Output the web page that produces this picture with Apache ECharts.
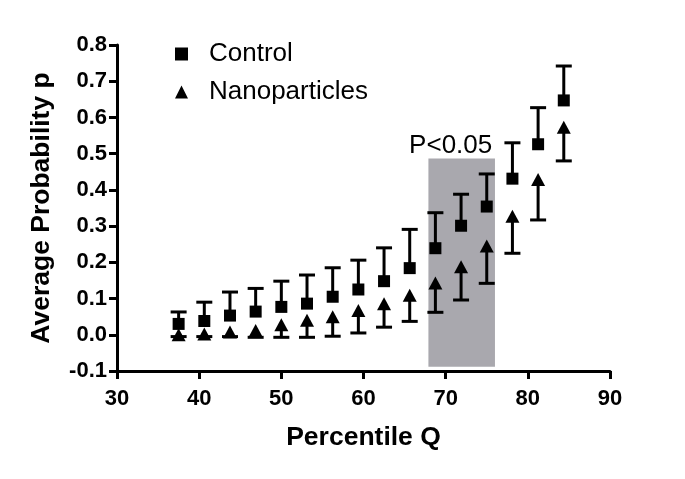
<!DOCTYPE html>
<html>
<head>
<meta charset="utf-8">
<script src="https://cdn.jsdelivr.net/npm/echarts@6/dist/echarts.min.js"></script>
<style>
html,body{margin:0;padding:0;background:#fff;}
#chart{width:685px;height:479px;}
</style>
</head>
<body>
<div id="chart"></div>
<script>
// ---- data ----
const percentiles = [37.5, 40.625, 43.75, 46.875, 50, 53.125, 56.25, 59.375, 62.5, 65.625, 68.75, 71.875, 75, 78.125, 81.25, 84.375];
const controlMean  = [0.030, 0.038, 0.053, 0.064, 0.077, 0.086, 0.105, 0.125, 0.148, 0.184, 0.239, 0.301, 0.354, 0.431, 0.526, 0.647];
const controlUpper = [0.063, 0.090, 0.118, 0.128, 0.148, 0.165, 0.185, 0.206, 0.240, 0.291, 0.337, 0.388, 0.444, 0.530, 0.627, 0.742];
const nanoMean     = [0.000, 0.002, 0.008, 0.012, 0.028, 0.040, 0.050, 0.067, 0.086, 0.109, 0.143, 0.188, 0.245, 0.327, 0.429, 0.573];
const nanoLower    = [-0.005, -0.005, -0.005, -0.007, -0.007, -0.007, -0.004, 0.005, 0.021, 0.037, 0.062, 0.096, 0.142, 0.225, 0.317, 0.480];
const shadeX = [67.9, 76.0];
const shadeY = [-0.088, 0.487];
const shadeLabel = 'P<0.05';
const seriesNames = ['Control', 'Nanoparticles'];
const xTitle = 'Percentile Q';
const yTitle = 'Average Probability p';

const FONT = '"Liberation Sans", Arial, Helvetica, sans-serif';

const ctrlPts = percentiles.map((x, i) => [x, controlMean[i]]);
const nanoPts = percentiles.map((x, i) => [x, nanoMean[i]]);
const ctrlErr = percentiles.map((x, i) => [x, controlMean[i], controlUpper[i]]);
const nanoErr = percentiles.map((x, i) => [x, nanoMean[i], nanoLower[i]]);

function errRender(params, api) {
  const x = api.value(0), m = api.value(1), e = api.value(2);
  const p0 = api.coord([x, m]);
  const p1 = api.coord([x, e]);
  const half = 8;
  const st = {stroke: '#000', lineWidth: 3};
  return {
    type: 'group',
    children: [
      {type: 'line', shape: {x1: p0[0], y1: p0[1], x2: p1[0], y2: p1[1]}, style: st},
      {type: 'line', shape: {x1: p1[0] - half, y1: p1[1], x2: p1[0] + half, y2: p1[1]}, style: st}
    ]
  };
}

const chart = echarts.init(document.getElementById('chart'), null, {renderer: 'canvas'});
chart.setOption({
  backgroundColor: '#fff',
  animation: false,
  grid: {left: 117, right: 75, top: 45, bottom: 108, containLabel: false},
  legend: {
    orient: 'vertical',
    left: 170,
    top: 36,
    itemWidth: 13,
    itemHeight: 13,
    itemGap: 12,
    data: [{name: seriesNames[0], icon: 'rect'}, {name: seriesNames[1], icon: 'triangle'}],
    textStyle: {fontFamily: FONT, fontSize: 26, color: '#000', lineHeight: 26, padding: [0, 0, 0, 16]}
  },
  xAxis: {
    type: 'value', min: 30, max: 90, interval: 10,
    name: xTitle, nameLocation: 'middle', nameGap: 53,
    nameTextStyle: {fontFamily: FONT, fontSize: 26.5, fontWeight: 'bold', color: '#000'},
    axisLine: {show: true, onZero: false, lineStyle: {color: '#000', width: 3}},
    axisTick: {show: true, length: 8, lineStyle: {color: '#000', width: 3}},
    axisLabel: {fontFamily: FONT, fontSize: 22, fontWeight: 'bold', color: '#000', margin: 17},
    splitLine: {show: false}
  },
  yAxis: {
    type: 'value', min: -0.1, max: 0.8, interval: 0.1,
    name: yTitle, nameLocation: 'middle', nameGap: 62,
    nameTextStyle: {fontFamily: FONT, fontSize: 26.5, fontWeight: 'bold', color: '#000'},
    axisLine: {show: true, onZero: false, lineStyle: {color: '#000', width: 3}},
    axisTick: {show: true, length: 8, lineStyle: {color: '#000', width: 3}},
    axisLabel: {fontFamily: FONT, fontSize: 22, fontWeight: 'bold', color: '#000', margin: 10,
      formatter: v => (Math.round(v * 10) / 10).toFixed(1)},
    splitLine: {show: false}
  },
  series: [
    {
      type: 'scatter', data: [], z: 1, silent: true,
      markArea: {
        silent: true,
        itemStyle: {color: '#a9a8ae', opacity: 1},
        label: {show: true, position: 'top', distance: 0, offset: [-11, 0],
          formatter: shadeLabel, fontFamily: FONT, fontSize: 26, color: '#000', lineHeight: 26},
        data: [[{coord: [shadeX[0], shadeY[0]]}, {coord: [shadeX[1], shadeY[1]]}]]
      }
    },
    {type: 'custom', renderItem: errRender, data: ctrlErr, encode: {x: 0, y: [1, 2]}, z: 3, silent: true},
    {type: 'custom', renderItem: errRender, data: nanoErr, encode: {x: 0, y: [1, 2]}, z: 3, silent: true},
    {name: seriesNames[0], type: 'scatter', data: ctrlPts, symbol: 'rect', symbolSize: 12,
      itemStyle: {color: '#000', opacity: 1}, z: 4},
    {name: seriesNames[1], type: 'scatter', data: nanoPts, symbol: 'triangle', symbolSize: [14, 13],
      itemStyle: {color: '#000', opacity: 1}, z: 4}
  ]
});
</script>
</body>
</html>
